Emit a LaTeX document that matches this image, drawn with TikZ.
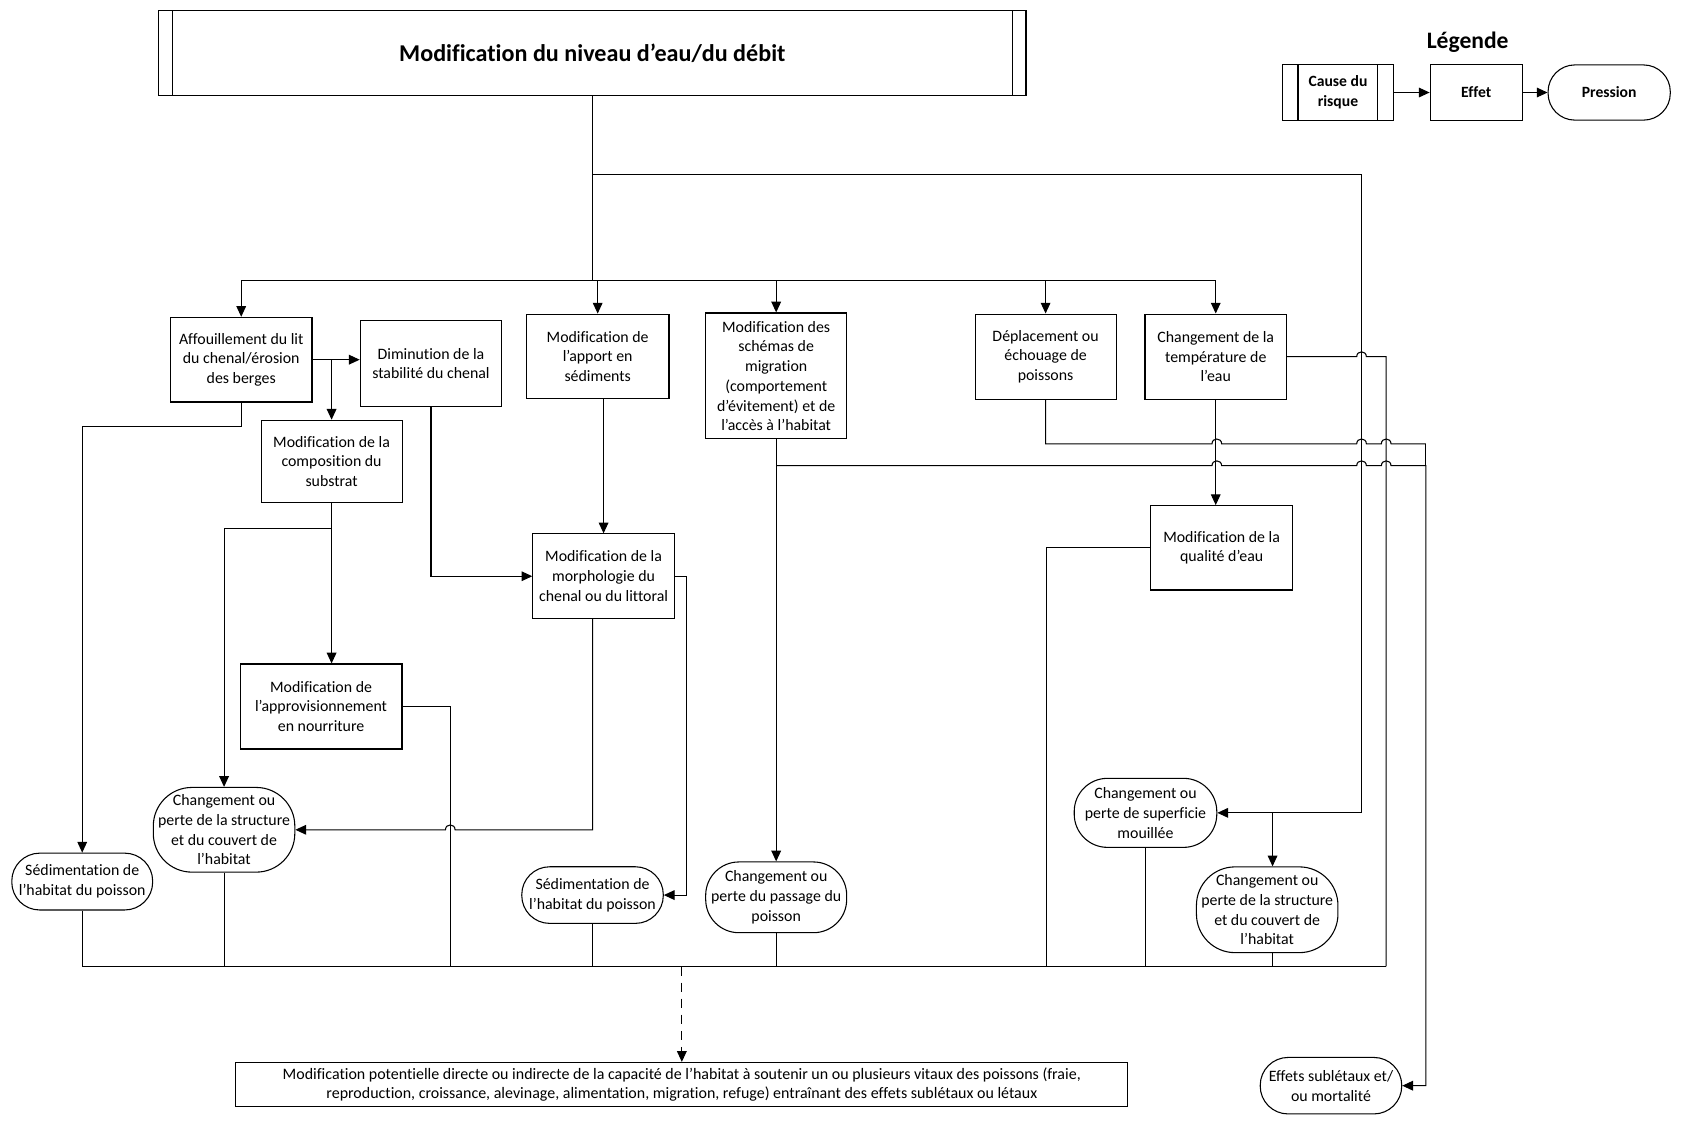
\documentclass[tikz,border=0pt]{standalone}
\usepackage{fontspec}
\setmainfont{Carlito}[Ligatures=NoCommon]
\usetikzlibrary{arrows.meta,calc}
\begin{document}
\begin{tikzpicture}[x=1pt,y=-1pt,
  every path/.style={line width=1pt},
  base/.style={draw, align=center, inner sep=0pt, font=\fontsize{14.8}{18.4}\selectfont},
  effbox/.style={base},
  presbox/.style={base, rounded corners=#1},
  presbox/.default=26pt,
  arr/.style={-{Triangle[length=10pt,width=9pt]}},
]
\useasboundingbox (0,0) rectangle (1568,1049);

% title and legend
\node[base, minimum width=809pt, minimum height=79pt, font=\fontsize{22.5}{26}\selectfont\bfseries] (title) at (552.5,49.5) {Modification du niveau d’eau/du débit};
\draw ([xshift=13pt]title.north west) -- ([xshift=13pt]title.south west);
\draw ([xshift=-13pt]title.north east) -- ([xshift=-13pt]title.south east);

\node[font=\fontsize{22}{26}\selectfont\bfseries] (leg) at (1369,39) {Légende};
\node[base, minimum width=103.5pt, minimum height=51.5pt, font=\fontsize{14.6}{18.4}\selectfont\bfseries] (lcause) at (1248,86.3) {Cause du\\risque};
\draw ([xshift=15pt]lcause.north west) -- ([xshift=15pt]lcause.south west);
\draw ([xshift=-15pt]lcause.north east) -- ([xshift=-15pt]lcause.south east);
\node[base, minimum width=86pt, minimum height=51.5pt, font=\fontsize{14.6}{18.4}\selectfont\bfseries] (leffet) at (1377,86.3) {Effet};
\node[presbox=25pt, minimum width=114pt, minimum height=51.5pt, font=\fontsize{14.6}{18.4}\selectfont\bfseries] (lpress) at (1501,86.3) {Pression};
\draw[arr] (lcause.east) -- (leffet.west);
\draw[arr] (leffet.east) -- (lpress.west);

% effect boxes
\node[effbox, minimum width=132pt, minimum height=79pt] (aff) at (225,335.5) {Affouillement du lit\\du chenal/érosion\\des berges};
\node[effbox, minimum width=132pt, minimum height=79.5pt] (dim) at (402,339) {Diminution de la\\stabilité du chenal};
\node[effbox, minimum width=131.5pt, minimum height=77pt] (comp) at (309.3,430.5) {Modification de la\\composition du\\substrat};
\node[effbox, minimum width=133pt, minimum height=79pt] (apport) at (557.5,332.5) {Modification de\\l’apport en\\sédiments};
\node[effbox, minimum width=132pt, minimum height=117.5pt] (schem) at (724,350.7) {Modification des\\schémas de\\migration\\(comportement\\d'évitement) et de\\l'accès à l'habitat};
\node[effbox, minimum width=131.5pt, minimum height=79.5pt] (depl) at (975.3,332.7) {Déplacement ou\\échouage de\\poissons};
\node[effbox, minimum width=132pt, minimum height=79.5pt] (temp) at (1134,332.7) {Changement de la\\température de\\l’eau};
\node[effbox, minimum width=132pt, minimum height=79pt] (morph) at (563,537.5) {Modification de la\\morphologie du\\chenal ou du littoral};
\node[effbox, minimum width=151pt, minimum height=79.3pt] (appro) at (299.5,659) {Modification de\\l’approvisionnement\\en nourriture};
\node[effbox, minimum width=132pt, minimum height=78.7pt] (qual) at (1139.5,511) {Modification de la\\qualité d’eau};

% pressure stadiums
\node[presbox=26pt, minimum width=131.4pt, minimum height=53pt] (sed1) at (76.7,822.3) {Sédimentation de\\l’habitat du poisson};
\node[presbox=36pt, minimum width=132pt, minimum height=79pt] (str1) at (209,774) {Changement ou\\perte de la structure\\et du couvert de\\l’habitat};
\node[presbox=26pt, minimum width=132pt, minimum height=52.8pt] (sed2) at (552.7,834.9) {Sédimentation de\\l’habitat du poisson};
\node[presbox=31pt, minimum width=131.5pt, minimum height=66pt] (pass) at (724,837) {Changement ou\\perte du passage du\\poisson};
\node[presbox=31pt, minimum width=133pt, minimum height=64.4pt] (sup) at (1068.5,758.2) {Changement ou\\perte de superficie\\mouillée};
\node[presbox=36pt, minimum width=132pt, minimum height=80pt] (str2) at (1182,848.6) {Changement ou\\perte de la structure\\et du couvert de\\l’habitat};
\node[presbox=26pt, minimum width=132pt, minimum height=52.7pt] (eff) at (1241.5,1012.7) {Effets sublétaux et/\\ou mortalité};

\node[base, minimum width=832pt, minimum height=41pt, font=\fontsize{14.9}{18.2}\selectfont] (bottom) at (636,1011.5) {Modification potentielle directe ou indirecte de la capacité de l’habitat à soutenir un ou plusieurs vitaux des poissons (fraie,\\reproduction, croissance, alevinage, alimentation, migration, refuge) entraînant des effets sublétaux ou létaux};

% junction coordinates
\coordinate (J1) at (552.5,163);
\coordinate (J2) at (552.5,262);
\coordinate (J3) at (1270,758.2);
\coordinate (J4) at (1187,758.2);
\coordinate (J5) at (309.3,335.5);
\coordinate (J6) at (309.3,492.7);
\coordinate (BR) at (1293,901.5);
\coordinate (BD) at (636,901.5);

% trunk and top distribution
\draw (title.south) -- (J2);
\draw[arr] (J2) -| (aff.north);
\draw[arr] (J2) -| (apport.north);
\draw[arr] (J2) -| (schem.north);
\draw[arr] (J2) -| (depl.north);
\draw[arr] (J2) -| (temp.north);
\draw[arr] (J1) -| (J3) -- (sup.east);
\draw[arr] (J4) -- (J4 |- str2.north);

% left part
\draw[arr] (aff.east) -- (aff.east -| dim.west);
\draw[arr] (J5) -- (comp.north);
\draw[arr] (aff.south) -- (225,397.4) -| (sed1.north);
\draw[arr] (dim.south) |- (morph.west);
\draw[arr] (apport.south -| morph.north) -- (morph.north);
\draw (comp.south) -- (J6);
\draw[arr] (J6) -| (str1.north);
\draw[arr] (J6) -- (J6 |- appro.north);
\draw (appro.east) -| (420,901.5);
\draw[arr] (morph.south -| sed2.north) -- (552.7,774) -- (424.5,774)
  .. controls (424.5,768) and (415.5,768) .. (415.5,774) -- (str1.east);
\draw[arr] (morph.east) -- (640,537.5) |- (sed2.east);
\draw[arr] (schem.south) -- (pass.north);

% right part with line hops
\draw (temp.east) -- (1265.5,332.7)
  .. controls (1265.5,326.7) and (1274.5,326.7) .. (1274.5,332.7) -| (BR);
\draw (depl.south) -- (975.3,414) -- (1130.5,414)
  .. controls (1130.5,408) and (1139.5,408) .. (1139.5,414) -- (1265.5,414)
  .. controls (1265.5,408) and (1274.5,408) .. (1274.5,414) -- (1288.5,414)
  .. controls (1288.5,408) and (1297.5,408) .. (1297.5,414) -- (1330,414);
\draw[arr] (724,434.4) -- (1130.5,434.4)
  .. controls (1130.5,428.4) and (1139.5,428.4) .. (1139.5,434.4) -- (1265.5,434.4)
  .. controls (1265.5,428.4) and (1274.5,428.4) .. (1274.5,434.4) -- (1288.5,434.4)
  .. controls (1288.5,428.4) and (1297.5,428.4) .. (1297.5,434.4) -- (1330,434.4)
  |- (eff.east);
\draw (1330,414) -- (1330,434.4);
\draw[arr] (temp.south) -- (temp.south |- qual.north);
\draw (qual.west) -| (976,901.5);

% bus
\draw (sed1.south) |- (BR);
\draw (str1.south) -- (str1.south |- BR);
\draw (sed2.south) -- (sed2.south |- BR);
\draw (pass.south) -- (pass.south |- BR);
\draw (sup.south) -- (sup.south |- BR);
\draw (J4 |- str2.south) -- (J4 |- BR);
\draw[arr, dash pattern=on 9pt off 6pt] (BD) -- (bottom.north);
\end{tikzpicture}
\end{document}
